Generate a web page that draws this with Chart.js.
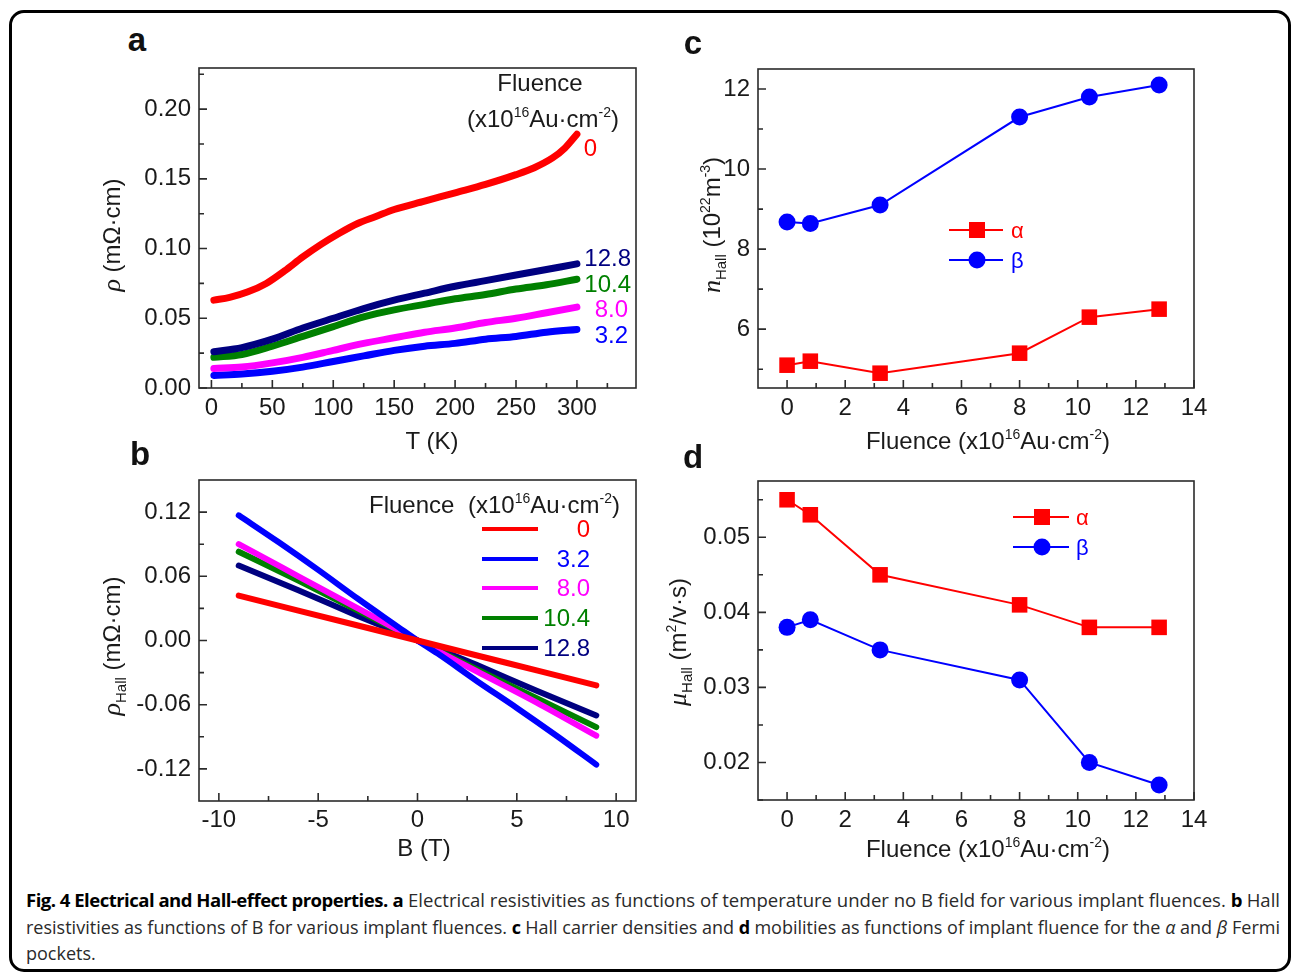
<!DOCTYPE html>
<html><head><meta charset="utf-8">
<script src="https://cdn.jsdelivr.net/npm/chart.js@4.4.1/dist/chart.umd.min.js"></script>
<style>
html,body{margin:0;padding:0;background:#fff;}
body{width:1293px;height:977px;position:relative;overflow:hidden;font-family:"Liberation Sans",Arial,sans-serif;}
.frame{position:absolute;left:9px;top:10px;width:1282px;height:962px;border:3px solid #000;border-radius:15px;box-sizing:border-box;}
.cw{position:absolute;}
.t{position:absolute;white-space:nowrap;font-size:24px;line-height:1;color:#1a1a1a;transform:translate(-50%,-50%);}
.r{position:absolute;white-space:nowrap;font-size:24px;line-height:1;transform:translateY(-50%);}
.l{position:absolute;white-space:nowrap;font-size:24px;line-height:1;transform:translateY(-50%);}
.rot{position:absolute;white-space:nowrap;font-size:24px;line-height:1;color:#1a1a1a;transform:translate(-50%,-50%) rotate(-90deg);}
.sp{font-size:14px;position:relative;top:-10px;}
.sb{font-size:15px;position:relative;top:6px;}
.it{font-family:"Liberation Serif","Times New Roman",serif;font-style:italic;font-size:26px;}
.let{position:absolute;font-weight:bold;font-size:33px;line-height:1;color:#111;transform:translate(-50%,-50%);}
.ln{position:absolute;height:4px;transform:translateY(-50%);}
.ln2{position:absolute;height:2px;transform:translateY(-50%);}
.mk{position:absolute;transform:translate(-50%,-50%);}
.cap{position:absolute;left:26px;white-space:nowrap;font-family:"Open Sans",sans-serif;font-size:18px;line-height:20px;color:#2a2a2a;transform-origin:0 50%;}
.cap b{color:#000;letter-spacing:-0.5px;}
</style>
</head>
<body>
<div class="frame"></div>

<div class="cw" style="left:120px;top:58px;width:540px;height:370px;"><canvas id="ca" width="540" height="370"></canvas></div>
<div class="cw" style="left:120px;top:470px;width:540px;height:370px;"><canvas id="cb" width="540" height="370"></canvas></div>
<div class="cw" style="left:680px;top:58px;width:540px;height:370px;"><canvas id="cc" width="540" height="370"></canvas></div>
<div class="cw" style="left:680px;top:470px;width:540px;height:370px;"><canvas id="cd" width="540" height="370"></canvas></div>

<!-- panel letters -->
<div class="let" style="left:137px;top:39px;">a</div>
<div class="let" style="left:140px;top:453px;">b</div>
<div class="let" style="left:693px;top:42px;">c</div>
<div class="let" style="left:693px;top:456px;">d</div>

<!-- panel a texts -->
<div class="t" style="left:432px;top:441px;">T (K)</div>
<div class="rot" style="left:112px;top:235px;"><span class="it">ρ</span> (mΩ·cm)</div>
<div class="t" style="left:540px;top:83px;">Fluence</div>
<div class="t" style="left:543px;top:119px;">(x10<span class="sp">16</span>Au·cm<span class="sp">-2</span>)</div>
<div class="r" style="right:696px;top:148px;color:#ff0000;">0</div>
<div class="r" style="right:662px;top:258px;color:#000080;">12.8</div>
<div class="r" style="right:662px;top:284px;color:#008000;">10.4</div>
<div class="r" style="right:665px;top:309px;color:#ff00ff;">8.0</div>
<div class="r" style="right:665px;top:335px;color:#0000ff;">3.2</div>

<!-- panel b texts -->
<div class="t" style="left:424px;top:848px;">B (T)</div>
<div class="rot" style="left:112px;top:646px;"><span class="it">ρ</span><span class="sb">Hall</span> (mΩ·cm)</div>
<div class="l" style="left:369px;top:505px;color:#1a1a1a;">Fluence</div>
<div class="l" style="left:468px;top:505px;color:#1a1a1a;">(x10<span class="sp">16</span>Au·cm<span class="sp">-2</span>)</div>
<div class="ln" style="left:482px;width:56px;top:529px;background:#ff0000;"></div>
<div class="ln" style="left:482px;width:56px;top:559px;background:#0000ff;"></div>
<div class="ln" style="left:482px;width:56px;top:588px;background:#ff00ff;"></div>
<div class="ln" style="left:482px;width:56px;top:618px;background:#008000;"></div>
<div class="ln" style="left:482px;width:56px;top:648px;background:#000080;"></div>
<div class="r" style="right:703px;top:529px;color:#ff0000;">0</div>
<div class="r" style="right:703px;top:559px;color:#0000ff;">3.2</div>
<div class="r" style="right:703px;top:588px;color:#ff00ff;">8.0</div>
<div class="r" style="right:703px;top:618px;color:#008000;">10.4</div>
<div class="r" style="right:703px;top:648px;color:#000080;">12.8</div>

<!-- panel c texts -->
<div class="t" style="left:988px;top:441px;">Fluence (x10<span class="sp">16</span>Au·cm<span class="sp">-2</span>)</div>
<div class="rot" style="left:712px;top:225px;"><span class="it">n</span><span class="sb">Hall</span> (10<span class="sp">22</span>m<span class="sp">-3</span>)</div>
<div class="ln2" style="left:949px;width:54px;top:230px;background:#ff0000;"></div>
<div class="mk" style="left:977px;top:230px;width:16px;height:16px;background:#ff0000;"></div>
<div class="l" style="left:1011px;top:231px;color:#ff0000;font-size:22px;">α</div>
<div class="ln2" style="left:949px;width:54px;top:260px;background:#0000ff;"></div>
<div class="mk" style="left:977px;top:260px;width:17px;height:17px;border-radius:50%;background:#0000ff;"></div>
<div class="l" style="left:1011px;top:261px;color:#0000ff;font-size:22px;">β</div>

<!-- panel d texts -->
<div class="t" style="left:988px;top:849px;">Fluence (x10<span class="sp">16</span>Au·cm<span class="sp">-2</span>)</div>
<div class="rot" style="left:678px;top:642px;"><span class="it">μ</span><span class="sb">Hall</span> (m<span class="sp">2</span>/v·s)</div>
<div class="ln2" style="left:1013px;width:56px;top:517px;background:#ff0000;"></div>
<div class="mk" style="left:1042px;top:517px;width:16px;height:16px;background:#ff0000;"></div>
<div class="l" style="left:1076px;top:518px;color:#ff0000;font-size:22px;">α</div>
<div class="ln2" style="left:1013px;width:56px;top:547px;background:#0000ff;"></div>
<div class="mk" style="left:1042px;top:547px;width:17px;height:17px;border-radius:50%;background:#0000ff;"></div>
<div class="l" style="left:1076px;top:548px;color:#0000ff;font-size:22px;">β</div>

<!-- caption -->
<div class="cap" id="cap1" style="top:890px;"><b>Fig. 4 Electrical and Hall-effect properties.</b> <b>a</b> Electrical resistivities as functions of temperature under no B field for various implant fluences. <b>b</b> Hall</div>
<div class="cap" id="cap2" style="top:917px;">resistivities as functions of B for various implant fluences. <b>c</b> Hall carrier densities and <b>d</b> mobilities as functions of implant fluence for the <i>α</i> and <i>β</i> Fermi</div>
<div class="cap" id="cap3" style="top:943px;">pockets.</div>

<script>
// ---------- DATA ----------
// panel a: resistivity vs temperature
const tempK0  = [2, 15, 30, 45, 60, 75, 90, 105, 120, 135, 150, 175, 200, 225, 250, 265, 280, 290, 300];
const rhoF0   = [0.063, 0.065, 0.069, 0.075, 0.084, 0.094, 0.103, 0.111, 0.118, 0.123, 0.128, 0.134, 0.140, 0.146, 0.153, 0.158, 0.165, 0.172, 0.182];
const tempK   = [2, 25, 50, 75, 100, 125, 150, 175, 200, 225, 250, 275, 300];
const rhoF32  = [0.009, 0.010, 0.012, 0.015, 0.019, 0.023, 0.027, 0.030, 0.032, 0.035, 0.037, 0.040, 0.042];
const rhoF80  = [0.014, 0.015, 0.018, 0.022, 0.027, 0.032, 0.036, 0.040, 0.043, 0.047, 0.050, 0.054, 0.058];
const rhoF104 = [0.022, 0.024, 0.030, 0.037, 0.044, 0.051, 0.056, 0.060, 0.064, 0.067, 0.071, 0.074, 0.078];
const rhoF128 = [0.026, 0.029, 0.035, 0.043, 0.050, 0.057, 0.063, 0.068, 0.073, 0.077, 0.081, 0.085, 0.089];
const xTicksA = [0, 50, 100, 150, 200, 250, 300];
const xMinorA = [25, 75, 125, 175, 225, 275, 325];
const yTicksA = [0, 0.05, 0.10, 0.15, 0.20];
const yMinorA = [0.025, 0.075, 0.125, 0.175, 0.225];

// panel b: Hall resistivity vs field
const fieldB    = [-9, -6, -3, 0, 3, 6, 9];
const hallF0    = [0.042, 0.028, 0.014, 0, -0.014, -0.028, -0.042];
const hallF80   = [0.090, 0.060, 0.030, 0, -0.029, -0.058, -0.089];
const hallF104  = [0.083, 0.056, 0.028, 0, -0.027, -0.054, -0.081];
const hallF128  = [0.070, 0.047, 0.023, 0, -0.023, -0.047, -0.070];
const fieldB32  = [-9, -7, -5, -3, -1, 0, 1, 3, 5, 7, 9];
const hallF32   = [0.117, 0.092, 0.066, 0.039, 0.013, 0, -0.012, -0.038, -0.063, -0.089, -0.116];
const xTicksB = [-10, -5, 0, 5, 10];
const xMinorB = [-7.5, -2.5, 2.5, 7.5];
const yTicksB = [-0.12, -0.06, 0, 0.06, 0.12];
const yMinorB = [-0.09, -0.03, 0.03, 0.09];

// panels c, d: vs fluence
const fluence = [0, 0.8, 3.2, 8.0, 10.4, 12.8];
const nAlpha  = [5.1, 5.2, 4.9, 5.4, 6.3, 6.5];
const nBeta   = [8.68, 8.64, 9.1, 11.3, 11.8, 12.1];
const muAlpha = [0.055, 0.053, 0.045, 0.041, 0.038, 0.038];
const muBeta  = [0.038, 0.039, 0.035, 0.031, 0.020, 0.017];
const xTicksCD = [0, 2, 4, 6, 8, 10, 12, 14];
const xMinorCD = [1, 3, 5, 7, 9, 11, 13];
const yTicksC = [6, 8, 10, 12];
const yMinorC = [5, 7, 9, 11];
const yTicksD = [0.02, 0.03, 0.04, 0.05];
const yMinorD = [0.015, 0.025, 0.035, 0.045, 0.055];

// ---------- HELPERS ----------
const pts = (xs, ys) => xs.map((x, i) => ({x: x, y: ys[i]}));
const FONT = {family: '"Liberation Sans", Arial, sans-serif', size: 24};

const boxTicks = {
  id: 'boxTicks',
  afterDatasetsDraw(chart, args, o) {
    const {ctx, chartArea: a, scales: {x, y}} = chart;
    ctx.save();
    ctx.strokeStyle = '#2b2b2b';
    ctx.lineWidth = 1.6;
    ctx.beginPath();
    o.xMajor.forEach(v => { const p = x.getPixelForValue(v); ctx.moveTo(p, a.bottom); ctx.lineTo(p, a.bottom - 8); });
    o.xMinor.forEach(v => { const p = x.getPixelForValue(v); ctx.moveTo(p, a.bottom); ctx.lineTo(p, a.bottom - 5); });
    o.yMajor.forEach(v => { const p = y.getPixelForValue(v); ctx.moveTo(a.left, p); ctx.lineTo(a.left + 8, p); });
    o.yMinor.forEach(v => { const p = y.getPixelForValue(v); ctx.moveTo(a.left, p); ctx.lineTo(a.left + 5, p); });
    ctx.stroke();
    ctx.strokeRect(a.left, a.top, a.right - a.left, a.bottom - a.top);
    ctx.restore();
  }
};

function axis(min, max, ticks, fmt, isY, size, pad) {
  return {
    type: 'linear', min: min, max: max, position: isY ? 'left' : 'bottom',
    grid: {display: false, drawTicks: false}, border: {display: false},
    afterBuildTicks: s => { s.ticks = ticks.map(v => ({value: v})); },
    afterFit: s => {
      if (isY) { s.width = size; s.paddingTop = 0; s.paddingBottom = 0; }
      else { s.height = size; s.paddingLeft = 0; s.paddingRight = 0; }
    },
    ticks: {font: FONT, color: '#1a1a1a', padding: pad, autoSkip: false, maxRotation: 0, callback: v => fmt(v)}
  };
}

function makeChart(id, datasets, sx, sy, padding, tickOpts) {
  return new Chart(document.getElementById(id), {
    type: 'scatter',
    data: {datasets: datasets},
    options: {
      responsive: false, animation: false,
      layout: {padding: padding},
      plugins: {legend: {display: false}, tooltip: {enabled: false}, boxTicks: tickOpts},
      scales: {x: sx, y: sy}
    },
    plugins: [boxTicks]
  });
}

function curve(data, color, w, order) {
  return {data: data, showLine: true, borderColor: color, backgroundColor: color, borderWidth: w,
          pointRadius: 0, tension: 0.4, cubicInterpolationMode: 'monotone', borderCapStyle: 'round', order: order};
}
function marked(data, color, style, r, order) {
  return {data: data, showLine: true, borderColor: color, backgroundColor: color, borderWidth: 2,
          pointStyle: style, pointRadius: r, pointBorderWidth: 0, order: order};
}

// ---------- PANEL A ----------
makeChart('ca', [
  curve(pts(tempK0, rhoF0), '#ff0000', 7, 5),
  curve(pts(tempK, rhoF32), '#0000ff', 7, 4),
  curve(pts(tempK, rhoF80), '#ff00ff', 7, 3),
  curve(pts(tempK, rhoF104), '#008000', 7, 2),
  curve(pts(tempK, rhoF128), '#000080', 7, 1)
],
  axis(-10.2, 348.5, xTicksA, v => String(v), false, 40, 6),
  axis(0, 0.2295, yTicksA, v => v.toFixed(2), true, 79, 8),
  {left: 0, top: 10, right: 24, bottom: 0},
  {xMajor: xTicksA, xMinor: xMinorA, yMajor: yTicksA, yMinor: yMinorA});

// ---------- PANEL B ----------
makeChart('cb', [
  curve(pts(fieldB, hallF0), '#ff0000', 6, 1),
  curve(pts(fieldB32, hallF32), '#0000ff', 6, 2),
  curve(pts(fieldB, hallF80), '#ff00ff', 6, 3),
  curve(pts(fieldB, hallF104), '#008000', 6, 4),
  curve(pts(fieldB, hallF128), '#000080', 6, 5)
],
  axis(-11, 11, xTicksB, v => String(v), false, 39, 5),
  axis(-0.15, 0.15, yTicksB, v => v.toFixed(2), true, 79, 8),
  {left: 0, top: 10, right: 24, bottom: 0},
  {xMajor: xTicksB, xMinor: xMinorB, yMajor: yTicksB, yMinor: yMinorB});

// ---------- PANEL C ----------
makeChart('cc', [
  marked(pts(fluence, nAlpha), '#ff0000', 'rect', 11, 1),
  marked(pts(fluence, nBeta), '#0000ff', 'circle', 8.5, 2)
],
  axis(-1, 14, xTicksCD, v => String(v), false, 40, 6),
  axis(4.53, 12.5, yTicksC, v => String(v), true, 78, 8),
  {left: 0, top: 10, right: 26, bottom: 0},
  {xMajor: xTicksCD, xMinor: xMinorCD, yMajor: yTicksC, yMinor: yMinorC});

// ---------- PANEL D ----------
makeChart('cd', [
  marked(pts(fluence, muAlpha), '#ff0000', 'rect', 11, 1),
  marked(pts(fluence, muBeta), '#0000ff', 'circle', 8.5, 2)
],
  axis(-1, 14, xTicksCD, v => String(v), false, 40, 6),
  axis(0.015, 0.0575, yTicksD, v => v.toFixed(2), true, 78, 8),
  {left: 0, top: 10, right: 26, bottom: 0},
  {xMajor: xTicksCD, xMinor: xMinorCD, yMajor: yTicksD, yMinor: yMinorD});

// ---------- CAPTION FIT ----------
function fitCap() {
  const c1 = document.getElementById('cap1'), c2 = document.getElementById('cap2'), c3 = document.getElementById('cap3');
  [c1, c2, c3].forEach(c => c.style.transform = 'none');
  const k1 = 1254 / c1.getBoundingClientRect().width;
  const k2 = 1254 / c2.getBoundingClientRect().width;
  c1.style.transform = 'scaleX(' + k1 + ')';
  c2.style.transform = 'scaleX(' + k2 + ')';
  c3.style.transform = 'scaleX(' + k2 + ')';
}
fitCap();
if (document.fonts && document.fonts.ready) document.fonts.ready.then(fitCap);
</script>
</body></html>
